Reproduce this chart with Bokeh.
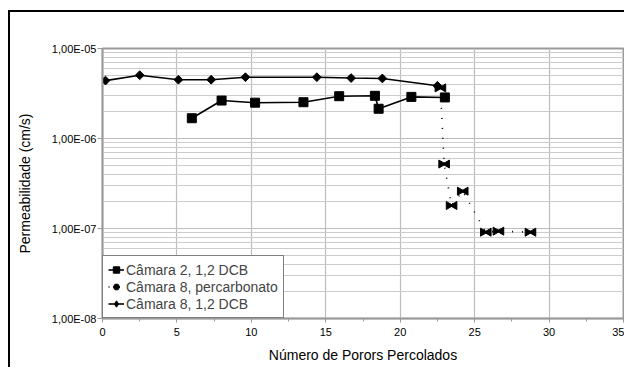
import math
from bokeh.plotting import figure
from bokeh.models import (Range1d, FixedTicker, SingleIntervalTicker, Legend, LegendItem)
from bokeh.embed import file_html
from bokeh.resources import INLINE

# ---- data ----
cam2_x = [6.0, 8.0, 10.25, 13.5, 15.9, 18.3, 18.55, 20.75, 23.0]
cam2_y = [1.68e-6, 2.64e-6, 2.5e-6, 2.53e-6, 2.95e-6, 2.98e-6, 2.14e-6, 2.9e-6, 2.86e-6]

perc_x = [22.7, 22.95, 23.45, 24.2, 25.75, 26.6, 28.75]
perc_y = [3.65e-6, 5.2e-7, 1.8e-7, 2.6e-7, 9.1e-8, 9.35e-8, 9.1e-8]

cam8_x = [0.2, 2.5, 5.1, 7.3, 9.6, 14.4, 16.7, 18.8, 22.5]
cam8_y = [4.4e-6, 5.05e-6, 4.5e-6, 4.5e-6, 4.8e-6, 4.8e-6, 4.7e-6, 4.65e-6, 3.85e-6]

y_ticks = [1e-8, 1e-7, 1e-6, 1e-5]
y_tick_labels = ["1,00E-08", "1,00E-07", "1,00E-06", "1,00E-05"]
labels = ["Câmara 2, 1,2 DCB", "Câmara 8, percarbonato", "Câmara 8, 1,2 DCB"]

FONT = "Liberation Sans"

p = figure(width=616, height=357, x_range=Range1d(0, 35), y_range=Range1d(1e-8, 1e-5),
           y_axis_type="log", output_backend="svg", toolbar_location=None,
           min_border_left=92, min_border_right=3, min_border_top=36, min_border_bottom=51)
p.margin = (10, 0, 0, 8)
p.styles = {"border-left": "2px solid black", "border-top": "2px solid black"}
# a range that keeps legend-only glyphs outside the frame
p.extra_y_ranges = {"legend_only": Range1d(1, 2)}

p.background_fill_color = "white"
p.border_fill_color = "white"
p.outline_line_color = "#9a9a9a"
p.outline_line_width = 2

# axes
minor = [m * 10.0 ** e for e in range(-8, -5) for m in range(2, 10)]
p.yaxis.ticker = FixedTicker(ticks=y_ticks, minor_ticks=minor)
p.yaxis.major_label_overrides = {t: l for t, l in zip(y_ticks, y_tick_labels)}
p.xaxis.ticker = SingleIntervalTicker(interval=5, num_minor_ticks=2)

for ax in (p.xaxis[0], p.yaxis[0]):
    ax.axis_line_color = "#9a9a9a"
    ax.axis_line_width = 1.5
    ax.major_tick_line_color = "#9a9a9a"
    ax.minor_tick_line_color = "#9a9a9a"
    ax.major_tick_in = 0
    ax.minor_tick_in = 0
    ax.major_label_text_font = FONT
    ax.major_label_text_font_size = "11px"
    ax.major_label_text_color = "black"
    ax.axis_label_text_font = FONT
    ax.axis_label_text_font_size = "14px"
    ax.axis_label_text_font_style = "normal"
    ax.axis_label_text_color = "black"

p.xaxis.major_tick_out = 4
p.xaxis.minor_tick_out = 3
p.xaxis.major_label_standoff = 5
p.xaxis.axis_label = "Número de Porors Percolados"
p.xaxis.axis_label_standoff = 8

p.yaxis.major_tick_out = 5
p.yaxis.minor_tick_line_color = None
p.yaxis.major_label_standoff = 1
p.yaxis.axis_label = "Permeabilidade (cm/s)"
p.yaxis.axis_label_standoff = 16

p.xgrid.grid_line_color = "#bdbdbd"
p.xgrid.grid_line_width = 1.2
p.ygrid.grid_line_color = "#bdbdbd"
p.ygrid.grid_line_width = 1.2
p.ygrid.minor_grid_line_color = "#cccccc"
p.ygrid.minor_grid_line_width = 1.2

# series
l1 = p.line(cam2_x, cam2_y, line_color="black", line_width=1.6)
s1 = p.scatter(cam2_x, cam2_y, marker="square", size=9, color="black")

l3 = p.line(cam8_x, cam8_y, line_color="black", line_width=1.6)
s3 = p.scatter(cam8_x, cam8_y, marker="square", angle=math.pi / 4, size=6.2, color="black")

l2 = p.line(perc_x, perc_y, line_color="black", line_width=1.6, line_dash="1 9")
bow_dx = 0.2
s2a = p.scatter([x - bow_dx for x in perc_x], perc_y, marker="triangle", size=8,
                angle=-math.pi / 2, color="black")
s2b = p.scatter([x + bow_dx for x in perc_x], perc_y, marker="triangle", size=8,
                angle=math.pi / 2, color="black")

# legend-only glyphs (the legend ignores marker rotation); their data fall outside
# the "legend_only" range, so they are clipped away from the plot area
lg3 = p.scatter(cam8_x, cam8_y, marker="diamond", size=10, color="black",
                y_range_name="legend_only")
lg2 = p.scatter(perc_x, perc_y, marker="hex", size=7, color="black",
                y_range_name="legend_only")

legend = Legend(items=[LegendItem(label=labels[0], renderers=[l1, s1]),
                       LegendItem(label=labels[1], renderers=[l2, lg2]),
                       LegendItem(label=labels[2], renderers=[l3, lg3])],
                location="bottom_left")
legend.margin = 0
legend.padding = 5
legend.spacing = 0
legend.label_height = 17
legend.glyph_height = 17
legend.glyph_width = 16
legend.label_standoff = 2
legend.label_text_font = FONT
legend.label_text_font_size = "14px"
legend.border_line_color = "black"
legend.border_line_width = 1
legend.background_fill_alpha = 1
p.add_layout(legend)

open("out.html", "w").write(file_html(p, INLINE))
